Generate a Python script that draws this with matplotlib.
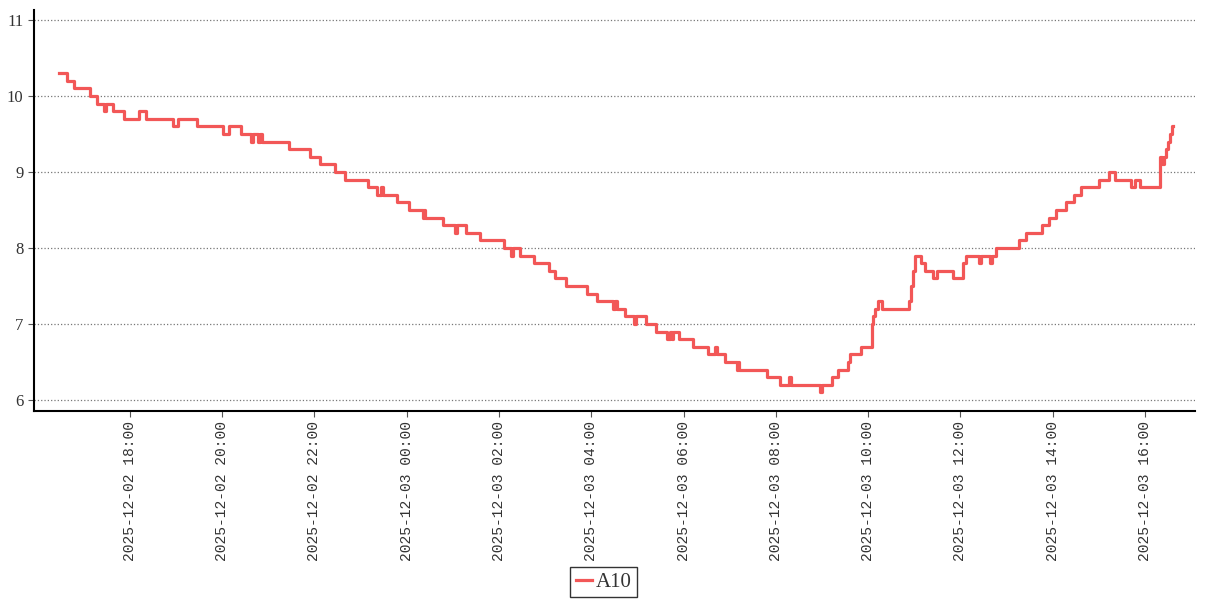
import pandas as pd
import matplotlib
matplotlib.use('Agg')
from matplotlib import pyplot as plt
import matplotlib.dates as mdates

# change points of the A10 reading (time, value), step-wise series
times = [
    '2025-12-02 16:28', '2025-12-02 16:38', '2025-12-02 16:47', '2025-12-02 17:08',
    '2025-12-02 17:17', '2025-12-02 17:26', '2025-12-02 17:29', '2025-12-02 17:38',
    '2025-12-02 17:52', '2025-12-02 18:12', '2025-12-02 18:21', '2025-12-02 18:56',
    '2025-12-02 19:02', '2025-12-02 19:27', '2025-12-02 20:01', '2025-12-02 20:09',
    '2025-12-02 20:24', '2025-12-02 20:37', '2025-12-02 20:40', '2025-12-02 20:46',
    '2025-12-02 20:49', '2025-12-02 20:52', '2025-12-02 21:27', '2025-12-02 21:54',
    '2025-12-02 22:07', '2025-12-02 22:27', '2025-12-02 22:40', '2025-12-02 23:09',
    '2025-12-02 23:21', '2025-12-02 23:26', '2025-12-02 23:29', '2025-12-02 23:47',
    '2025-12-03 00:03', '2025-12-03 00:21', '2025-12-03 00:22', '2025-12-03 00:24',
    '2025-12-03 00:47', '2025-12-03 01:03', '2025-12-03 01:05', '2025-12-03 01:17',
    '2025-12-03 01:35', '2025-12-03 02:06', '2025-12-03 02:15', '2025-12-03 02:18',
    '2025-12-03 02:27', '2025-12-03 02:45', '2025-12-03 03:05', '2025-12-03 03:13',
    '2025-12-03 03:27', '2025-12-03 03:54', '2025-12-03 04:07', '2025-12-03 04:28',
    '2025-12-03 04:31', '2025-12-03 04:33', '2025-12-03 04:44', '2025-12-03 04:55',
    '2025-12-03 04:58', '2025-12-03 05:11', '2025-12-03 05:24', '2025-12-03 05:38',
    '2025-12-03 05:42', '2025-12-03 05:45', '2025-12-03 05:46', '2025-12-03 05:54',
    '2025-12-03 06:12', '2025-12-03 06:32', '2025-12-03 06:41', '2025-12-03 06:43',
    '2025-12-03 06:54', '2025-12-03 07:09', '2025-12-03 07:11', '2025-12-03 07:12',
    '2025-12-03 07:48', '2025-12-03 08:05', '2025-12-03 08:17', '2025-12-03 08:20',
    '2025-12-03 08:57', '2025-12-03 09:00', '2025-12-03 09:13', '2025-12-03 09:21',
    '2025-12-03 09:34', '2025-12-03 09:36', '2025-12-03 09:51', '2025-12-03 10:05',
    '2025-12-03 10:06', '2025-12-03 10:09', '2025-12-03 10:13', '2025-12-03 10:18',
    '2025-12-03 10:53', '2025-12-03 10:56', '2025-12-03 10:58', '2025-12-03 11:01',
    '2025-12-03 11:09', '2025-12-03 11:14', '2025-12-03 11:24', '2025-12-03 11:29',
    '2025-12-03 11:50', '2025-12-03 12:03', '2025-12-03 12:07', '2025-12-03 12:24',
    '2025-12-03 12:27', '2025-12-03 12:38', '2025-12-03 12:41', '2025-12-03 12:46',
    '2025-12-03 13:16', '2025-12-03 13:25', '2025-12-03 13:46', '2025-12-03 13:55',
    '2025-12-03 14:04', '2025-12-03 14:17', '2025-12-03 14:28', '2025-12-03 14:37',
    '2025-12-03 15:00', '2025-12-03 15:13', '2025-12-03 15:21', '2025-12-03 15:42',
    '2025-12-03 15:47', '2025-12-03 15:53', '2025-12-03 16:19', '2025-12-03 16:22',
    '2025-12-03 16:25', '2025-12-03 16:27', '2025-12-03 16:30', '2025-12-03 16:32',
    '2025-12-03 16:35', '2025-12-03 16:36',
]
values = [
    10.3, 10.2, 10.1, 10.0,
    9.9, 9.8, 9.9, 9.8,
    9.7, 9.8, 9.7, 9.6,
    9.7, 9.6, 9.5, 9.6,
    9.5, 9.4, 9.5, 9.4,
    9.5, 9.4, 9.3, 9.2,
    9.1, 9.0, 8.9, 8.8,
    8.7, 8.8, 8.7, 8.6,
    8.5, 8.4, 8.5, 8.4,
    8.3, 8.2, 8.3, 8.2,
    8.1, 8.0, 7.9, 8.0,
    7.9, 7.8, 7.7, 7.6,
    7.5, 7.4, 7.3, 7.2,
    7.3, 7.2, 7.1, 7.0,
    7.1, 7.0, 6.9, 6.8,
    6.9, 6.8, 6.9, 6.8,
    6.7, 6.6, 6.7, 6.6,
    6.5, 6.4, 6.5, 6.4,
    6.3, 6.2, 6.3, 6.2,
    6.1, 6.2, 6.3, 6.4,
    6.5, 6.6, 6.7, 7.0,
    7.1, 7.2, 7.3, 7.2,
    7.3, 7.5, 7.7, 7.9,
    7.8, 7.7, 7.6, 7.7,
    7.6, 7.8, 7.9, 7.8,
    7.9, 7.8, 7.9, 8.0,
    8.1, 8.2, 8.3, 8.4,
    8.5, 8.6, 8.7, 8.8,
    8.9, 9.0, 8.9, 8.8,
    8.9, 8.8, 9.2, 9.1,
    9.2, 9.3, 9.4, 9.5,
    9.6, 9.6,
]

tick_times = pd.date_range('2025-12-02 18:00', '2025-12-03 16:00', freq='2h')
y_ticks = [6, 7, 8, 9, 10, 11]

dates = pd.to_datetime(times)

fig = plt.figure(figsize=(12.07, 6), dpi=100)
ax = fig.add_axes([0.028, 0.315, 0.962, 0.668])

ax.plot(dates, values, c='#f25757', lw=2.3, drawstyle='steps-post', label='A10')

ax.set_xlim(pd.Timestamp('2025-12-02 15:55'), pd.Timestamp('2025-12-03 17:05'))
ax.set_ylim(5.855, 11.13)
ax.set_yticks(y_ticks)
ax.set_xticks(tick_times)
ax.xaxis.set_major_formatter(mdates.DateFormatter('%Y-%m-%d %H:%M'))

for lab in ax.get_xticklabels():
    lab.set_rotation(90)
    lab.set_fontfamily('Liberation Mono')
    lab.set_fontsize(10.5)
    lab.set_color('#333333')
for lab in ax.get_yticklabels():
    lab.set_fontfamily('Liberation Serif')
    lab.set_fontsize(12)
    lab.set_color('#333333')

ax.grid(axis='y', linestyle=':', color='#777777', lw=0.9)
ax.spines['top'].set_visible(False)
ax.spines['right'].set_visible(False)
ax.spines['left'].set_linewidth(1.5)
ax.spines['bottom'].set_linewidth(1.5)
ax.tick_params(axis='both', length=4, width=0.8, color='#555555')

leg = fig.legend(loc='center', bbox_to_anchor=(0.5, 0.03), handlelength=0.8,
                 handletextpad=0.15, borderpad=0.25, borderaxespad=0.2,
                 fancybox=False, prop={'family': 'Liberation Serif', 'size': 15})
leg.get_frame().set_edgecolor('black')
leg.get_frame().set_linewidth(1.0)
for t in leg.get_texts():
    t.set_color('#333333')

plt.savefig('out.png')
